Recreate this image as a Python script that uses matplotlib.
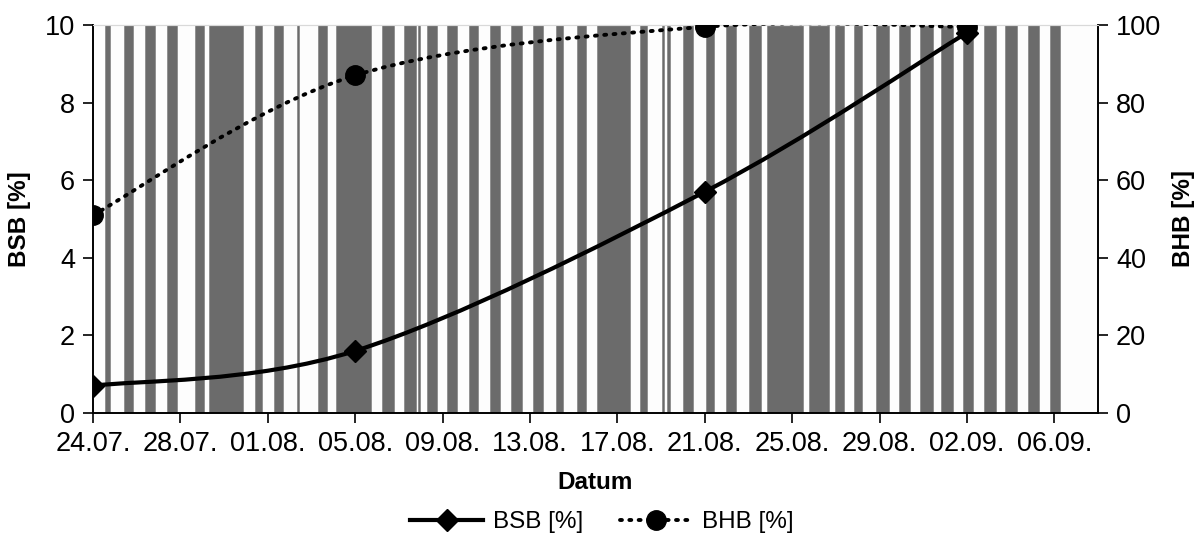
import datetime as dt
import matplotlib
matplotlib.use('Agg')
import matplotlib.pyplot as plt
import matplotlib.dates as mdates
from matplotlib.path import Path
from matplotlib.patches import PathPatch
from matplotlib.lines import Line2D

plt.rcParams['font.family'] = ['Liberation Sans', 'DejaVu Sans']

# periods shown as grey bars, in days after 24.07.
bar_start = [0.55, 1.42, 2.38, 3.39, 4.67, 5.31, 7.41, 8.28, 9.34, 10.30, 11.12,
             13.23, 14.23, 14.87, 15.29, 16.20, 17.21, 18.17, 19.13, 20.14, 21.19,
             22.15, 23.07, 25.03, 26.04, 26.27, 27.00, 28.05, 28.97, 30.02, 30.85,
             32.77, 33.96, 34.83, 35.84, 36.89, 37.85, 38.81, 39.82, 40.78, 41.74,
             42.79, 43.80]
bar_end = [0.78, 1.83, 2.84, 3.84, 5.08, 6.86, 7.73, 8.70, 9.43, 10.71, 12.72,
           13.78, 14.78, 14.97, 15.74, 16.66, 17.62, 18.63, 19.63, 20.59, 21.51,
           22.56, 24.58, 25.35, 26.13, 26.41, 27.46, 28.42, 29.43, 30.57, 32.49,
           33.68, 34.37, 35.19, 36.43, 37.39, 38.44, 39.36, 40.27, 41.33, 42.29,
           43.30, 44.26]

# survey dates and values
dates = ['24.07.', '05.08.', '21.08.', '02.09.']
bsb = [0.7, 1.6, 5.7, 9.8]
bhb = [51, 87, 99.5, 99.5]

base = dt.datetime(2012, 7, 24)


def to_num(s):
    d, m = s.strip('.').split('.')
    return mdates.date2num(dt.datetime(base.year, int(m), int(d)))


def smooth_path(xs, ys):
    # Excel-like smoothed line (cubic Bezier through the points)
    n = len(xs)
    verts = [(xs[0], ys[0])]
    codes = [Path.MOVETO]
    for i in range(n - 1):
        i0, i3 = max(i - 1, 0), min(i + 2, n - 1)
        c1 = (xs[i] + (xs[i + 1] - xs[i0]) / 6, ys[i] + (ys[i + 1] - ys[i0]) / 6)
        c2 = (xs[i + 1] - (xs[i3] - xs[i]) / 6, ys[i + 1] - (ys[i3] - ys[i]) / 6)
        verts += [c1, c2, (xs[i + 1], ys[i + 1])]
        codes += [Path.CURVE4] * 3
    return Path(verts, codes)


x0 = mdates.date2num(base)
xd = [to_num(s) for s in dates]
dots = (0, (0.5, 1.9))

fig = plt.figure(figsize=(12.04, 5.41), dpi=100)
ax = fig.add_axes([0.0772, 0.2366, 0.912 - 0.0772, 0.954 - 0.2366])
ax2 = ax.twinx()

ax.set_facecolor('#fdfdfd')
ax.bar([x0 + s for s in bar_start], 10,
       width=[e - s for s, e in zip(bar_start, bar_end)], align='edge',
       color='#6b6b6b', edgecolor='#8c8c8c', linewidth=0.6, zorder=1)

ax.add_patch(PathPatch(smooth_path(xd, bsb), fill=False, edgecolor='black',
                       linewidth=3, zorder=3, capstyle='round'))
ax.plot(xd, bsb, linestyle='none', marker='D', markersize=11, color='black', zorder=4)

ax2.add_patch(PathPatch(smooth_path(xd, bhb), fill=False, edgecolor='black',
                        linewidth=2.8, linestyle=dots, capstyle='round',
                        zorder=3))
ax2.plot(xd, bhb, linestyle='none', marker='o', markersize=14, color='black', zorder=4)

ax.set_xlim(x0, x0 + 46)
ax.set_ylim(0, 10)
ax2.set_ylim(0, 100)
ax.set_yticks(range(0, 11, 2))
ax2.set_yticks(range(0, 101, 20))
ax.set_xticks([x0 + 4 * k for k in range(12)])
ax.xaxis.set_major_formatter(mdates.DateFormatter('%d.%m.'))

for a in (ax, ax2):
    a.tick_params(direction='out', length=7, width=1.2, labelsize=19.5, pad=6)
    a.spines['top'].set_color('#d9d9d9')
    for sp in ('left', 'right', 'bottom'):
        a.spines[sp].set_linewidth(1.2)

ax.set_xlabel('Datum', fontsize=17.5, fontweight='bold', labelpad=10)
ax.set_ylabel('BSB [%]', fontsize=17.5, fontweight='bold', labelpad=10)
ax2.set_ylabel('BHB [%]', fontsize=17.5, fontweight='bold', labelpad=8)

handles = [
    Line2D([], [], color='black', linewidth=3, marker='D', markersize=11),
    Line2D([], [], color='black', linewidth=2.8, linestyle=dots,
           dash_capstyle='round', marker='o', markersize=14),
]
fig.legend(handles, ['BSB [%]', 'BHB [%]'], loc='center', ncol=2,
           bbox_to_anchor=(0.5, 0.035), frameon=False, fontsize=17.5,
           handlelength=3, columnspacing=1.5, handletextpad=0.4)

fig.savefig('out.png', dpi=100)
